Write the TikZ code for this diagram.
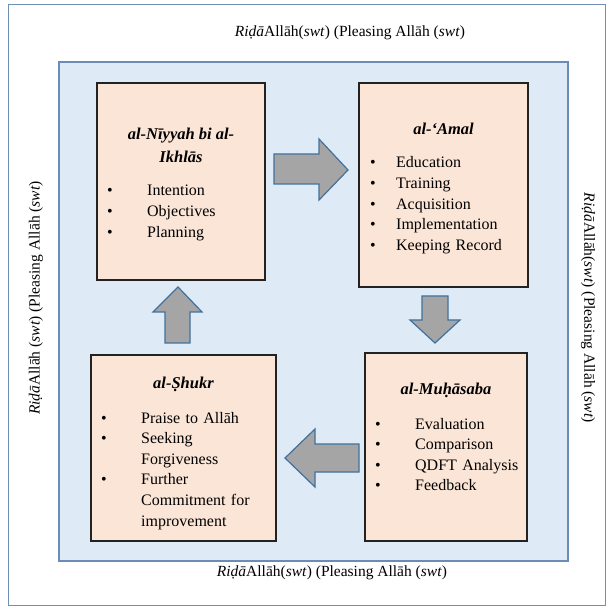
\documentclass[tikz,border=0pt]{standalone}
\usepackage{fontspec}
\setmainfont{Liberation Serif}
\definecolor{framecol}{HTML}{6F8FB4}
\definecolor{panelfill}{HTML}{DEEAF6}
\definecolor{panelline}{HTML}{6A8CB6}
\definecolor{stagefill}{HTML}{FBE5D7}
\definecolor{stageline}{HTML}{222222}
\definecolor{arrowfill}{HTML}{A5A5A5}
\definecolor{arrowline}{HTML}{41719C}
\begin{document}
\begin{tikzpicture}[x=1pt,y=-1pt,
  stage/.style={draw=stageline, fill=stagefill, line width=1.5pt},
  panel/.style={draw=panelline, fill=panelfill, line width=1.5pt},
  blockarrow/.style={draw=arrowline, fill=arrowfill, line width=1.2pt, line join=miter},
  heading/.style={inner sep=0pt, align=center, anchor=base,
    font=\fontsize{16.5}{23}\selectfont\bfseries\itshape},
  items/.style={inner sep=0pt, anchor=base west, text width=190pt, align=left,
    font=\fontsize{16}{20.6}\selectfont},
  caption/.style={inner sep=0pt, font=\fontsize{15.5}{18}\selectfont}]
\useasboundingbox (0,0) rectangle (610,609);
\fill[white] (0,0) rectangle (610,609);

% outer frame and shaded panel
\draw[framecol, line width=1pt] (8,5) rectangle (605,605);
\draw[panel] (59,62) rectangle (568,561);

% captions on the four sides
\node[caption] (ctop) at (350,33) {\textit{Riḍā}Allāh(\textit{swt}) (Pleasing Allāh (\textit{swt})};
\node[caption] (cbot) at (332,573) {\textit{Riḍā}Allāh(\textit{swt}) (Pleasing Allāh (\textit{swt})};
\node[caption, rotate=90] (cleft) at (36,298) {\textit{Riḍā}Allāh (\textit{swt}) (Pleasing Allāh (\textit{swt})};
\node[caption, rotate=-90] (cright) at (588,308) {\textit{Riḍā}Allāh(\textit{swt}) (Pleasing Allāh (\textit{swt})};

% the four stages
\draw[stage] (97,83) rectangle (265,280);
\draw[stage] (359,83) rectangle (528,287);
\draw[stage] (365,353) rectangle (527,541);
\draw[stage] (91,355) rectangle (276,541);

% headings (a two-line heading sits on its last baseline)
\node[heading] (h1) at (181,163) {al-Nīyyah bi al-\\Ikhlās};
\node[heading] (h2) at (443.5,135) {al-‘Amal};
\node[heading] (h3) at (446,394) {al-Muḥāsaba};
\node[heading] (h4) at (183.5,388) {al-Ṣhukr};

% bullet lists
\node[items] (l1) at (107,196) {%
  \makebox[40pt][l]{\textbullet}Intention\\
  \makebox[40pt][l]{\textbullet}Objectives\\
  \makebox[40pt][l]{\textbullet}Planning};
\node[items] (l2) at (370,168) {%
  \makebox[26pt][l]{\textbullet}Education\\
  \makebox[26pt][l]{\textbullet}Training\\
  \makebox[26pt][l]{\textbullet}Acquisition\\
  \makebox[26pt][l]{\textbullet}Implementation\\
  \makebox[26pt][l]{\textbullet}Keeping Record};
\node[items] (l3) at (375,429) {%
  \makebox[40pt][l]{\textbullet}Evaluation\\
  \makebox[40pt][l]{\textbullet}Comparison\\
  \makebox[40pt][l]{\textbullet}QDFT Analysis\\
  \makebox[40pt][l]{\textbullet}Feedback};
\node[items] (l4) at (101,423) {%
  \makebox[40pt][l]{\textbullet}Praise to Allāh\\
  \makebox[40pt][l]{\textbullet}Seeking\\
  \hspace*{40pt}Forgiveness\\
  \makebox[40pt][l]{\textbullet}Further\\
  \hspace*{40pt}Commitment for\\
  \hspace*{40pt}improvement};

% block arrows between the stages
\draw[blockarrow] (274,154) -- (319,154) -- (319,139) -- (348,170) -- (319,200)
  -- (319,184) -- (274,184) -- cycle;
\draw[blockarrow] (422,296) -- (448,296) -- (448,320) -- (460,320) -- (435,343)
  -- (410,320) -- (422,320) -- cycle;
\draw[blockarrow] (359,444) -- (315,444) -- (315,429) -- (285,458) -- (315,487)
  -- (315,472) -- (359,472) -- cycle;
\draw[blockarrow] (165,343) -- (165,312) -- (153,312) -- (178,287) -- (202,312)
  -- (190,312) -- (190,343) -- cycle;
\end{tikzpicture}
\end{document}
